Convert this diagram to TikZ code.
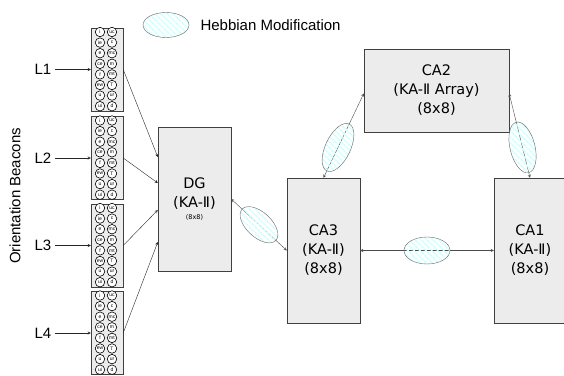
\documentclass[tikz,border=0pt]{standalone}
\usepackage{fontspec}
\setmainfont{Liberation Sans}
\newfontfamily\boxfont{DejaVu Sans}
\usetikzlibrary{shapes,arrows,positioning,patterns.meta,shapes.geometric}

\begin{document}
\begin{tikzpicture}[
    x=1pt, y=-1pt,
    every node/.style={font=\fontsize{15}{17}\selectfont},
    areabox/.style={rectangle, draw=black!75, fill=gray!15, inner sep=0pt,
                    align=center, font=\boxfont\fontsize{14.5}{19}\selectfont},
    beaconbox/.style={rectangle, draw=black!75, fill=gray!15,
                      minimum width=32pt, minimum height=83pt, inner sep=0pt},
    cell/.style={circle, draw=black, line width=0.6pt, fill=white, minimum size=9.5pt,
                 inner sep=0pt, font=\fontsize{5}{5}\selectfont},
    hebb/.style={ellipse, draw=black!60, minimum width=46pt, minimum height=25pt,
                 inner sep=0pt, pattern color=cyan!17,
                 pattern={Lines[angle=-45,distance=4pt,line width=1.6pt]}},
    arr/.style={->, >=stealth, draw=black!85},
    link/.style={<->, >=stealth, draw=black!70},
]
\useasboundingbox (0,0) rectangle (564,375);

% legend
\node[hebb] (key) at (166,25) {};
\node[anchor=west] (keytext) at (197,25) {Hebbian Modification};

\node[rotate=90] (orient) at (15,196) {Orientation Beacons};

% beacons
\foreach \i/\yc in {1/69.5, 2/158, 3/245.5, 4/333} {
  \node[beaconbox] (b\i) at (107,\yc) {};
  \foreach \a/\b [count=\r from 0] in {i/uc, ie/c, e/mc, ce/m, f/mt, ew/T, u/ur, ui/d} {
    \node[cell] (b\i a\r) at (100,{\yc-37.5+10.6*\r}) {\a};
    \node[cell] (b\i b\r) at (112,{\yc-37.5+10.6*\r}) {\b};
  }
  \node (l\i) at (43,\yc) {L\i};
  \draw[arr] (l\i) -- (b\i);
}

% regions
\node[areabox, minimum width=73pt, minimum height=144pt] (dg) at (194.5,199)
  {DG\\(KA-Ⅱ)\\[-7pt]{\fontsize{6.5}{7}\selectfont(8x8)}};
\node[areabox, minimum width=73pt, minimum height=145pt] (ca3) at (323.5,250.5)
  {CA3\\(KA-Ⅱ)\\(8x8)};
\node[areabox, minimum width=72pt, minimum height=145pt] (ca1) at (530,250.5)
  {CA1\\(KA-Ⅱ)\\(8x8)};
\node[areabox, minimum width=145pt, minimum height=83pt] (ca2) at (436.5,90.5)
  {CA2\\(KA-Ⅱ Array)\\(8x8)};

\foreach \i/\s in {1/42, 2/16, 3/-11, 4/-43}
  \draw[arr] (b\i.east) -- ([yshift=\s pt]dg.west);

\draw[link] (dg.east) -- node[hebb, sloped] (h1) {} (ca3.west);
\draw[link] (ca3.east) -- node[hebb, minimum height=27pt] (h2) {} (ca1.west);
\draw[link] (ca3.north) -- node[hebb, sloped, pos=0.36, minimum width=52pt] (h3) {} ([yshift=-3pt]ca2.west);
\draw[link] ([yshift=-3pt]ca2.east) -- node[hebb, sloped, pos=0.64, minimum width=52pt] (h4) {} (ca1.north);

\end{tikzpicture}
\end{document}
